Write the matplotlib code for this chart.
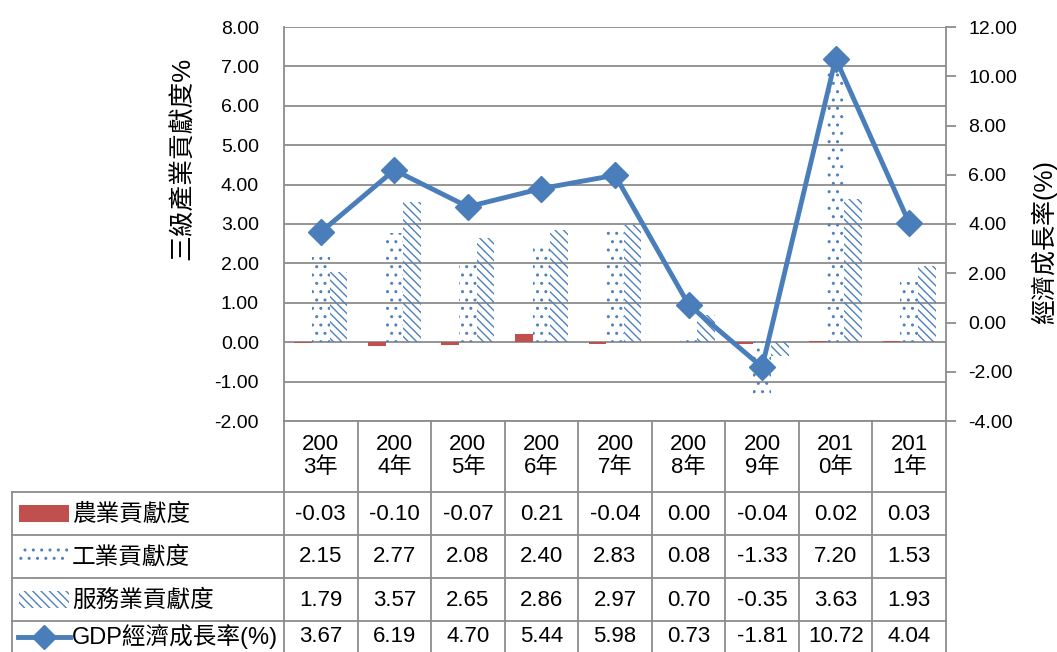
import matplotlib
matplotlib.use('Agg')
import matplotlib.pyplot as plt
import numpy as np
from matplotlib.lines import Line2D
from matplotlib.patches import Rectangle
from matplotlib.ticker import FormatStrFormatter
from matplotlib.transforms import blended_transform_factory

plt.rcParams['font.family'] = ['Liberation Sans', 'Noto Sans CJK TC']
plt.rcParams['hatch.linewidth'] = 1.0

# 資料
years = ['2003年', '2004年', '2005年', '2006年', '2007年', '2008年', '2009年', '2010年', '2011年']
agri = [-0.03, -0.10, -0.07, 0.21, -0.04, 0.00, -0.04, 0.02, 0.03]
industry = [2.15, 2.77, 2.08, 2.40, 2.83, 0.08, -1.33, 7.20, 1.53]
service = [1.79, 3.57, 2.65, 2.86, 2.97, 0.70, -0.35, 3.63, 1.93]
gdp = [3.67, 6.19, 4.70, 5.44, 5.98, 0.73, -1.81, 10.72, 4.04]
row_names = ['農業貢獻度', '工業貢獻度', '服務業貢獻度', 'GDP經濟成長率(%)']

W, H = 1057, 652
red = '#C0504D'
blue = '#4F81BD'
line_blue = '#4A7EBB'
gray = '#8C8C8C'


def fx(px):
    return px / W


def fy(py):
    return 1 - py / H


fig = plt.figure(figsize=(W / 100, H / 100), dpi=100)
ax = fig.add_axes([fx(284), fy(421), fx(946) - fx(284), fy(27) - fy(421)])

x = np.arange(len(years))
bw = 0.24
ax.bar(x - bw, agri, bw, color=red, linewidth=0, zorder=3)
ax.bar(x, industry, bw, facecolor='none', edgecolor=blue, hatch='..', linewidth=0, zorder=3)
ax.bar(x + bw, service, bw, facecolor='none', edgecolor=blue, hatch='\\\\\\\\', linewidth=0, zorder=3)

ax.set_xlim(-0.5, len(years) - 0.5)
ax.set_ylim(-2, 8)
ax.set_yticks(np.arange(-2, 9, 1))
ax.yaxis.set_major_formatter(FormatStrFormatter('%.2f'))
ax.set_xticks([])
ax.grid(axis='y', color=gray, linewidth=1.3, zorder=0)
ax.tick_params(axis='y', length=0, pad=18, labelsize=14)
for s in ['top', 'right']:
    ax.spines[s].set_visible(False)
for s in ['left', 'bottom']:
    ax.spines[s].set_color(gray)
    ax.spines[s].set_linewidth(1.3)

ax2 = ax.twinx()
ax2.plot(x, gdp, color=line_blue, linewidth=3.5, marker='D', markersize=13, zorder=5)
ax2.set_ylim(-4, 12)
ax2.set_yticks(np.arange(-4, 13, 2))
ax2.yaxis.set_major_formatter(FormatStrFormatter('%.2f'))
ax2.tick_params(axis='y', direction='out', length=7, width=1.3, color=gray, pad=9, labelsize=14)
for s in ['top', 'left', 'bottom']:
    ax2.spines[s].set_visible(False)
ax2.spines['right'].set_color(gray)
ax2.spines['right'].set_linewidth(1.3)

# 軸標題
fig.text(fx(183), fy(158), '三級產業貢獻度%', rotation=90, ha='center', va='center', fontsize=18.5)
fig.text(fx(1044), fy(242), '經濟成長率(%)', rotation=90, ha='center', va='center', fontsize=18)

# 資料表
trans = blended_transform_factory(ax.transData, fig.transFigure)
for xb in np.arange(-0.5, len(years), 1):
    fig.add_artist(Line2D([xb, xb], [fy(421), 0], transform=trans, color=gray, linewidth=1.3))
for yl in [492, 535, 578, 621]:
    fig.add_artist(Line2D([fx(12), fx(946)], [fy(yl), fy(yl)], transform=fig.transFigure,
                          color=gray, linewidth=1.3))
fig.add_artist(Line2D([fx(12), fx(12)], [fy(492), 0], transform=fig.transFigure, color=gray, linewidth=1.3))

for i, yr in enumerate(years):
    fig.text(i, fy(456), yr[:3] + '\n' + yr[3:], transform=trans, ha='center', va='center',
             fontsize=16, linespacing=1.15)

row_y = [514, 557, 600, 637]
for name, vals, yc in zip(row_names, [agri, industry, service, gdp], row_y):
    fig.text(fx(72), fy(yc), name, ha='left', va='center', fontsize=17)
    for i, v in enumerate(vals):
        fig.text(i, fy(yc), f'{v:.2f}', transform=trans, ha='center', va='center', fontsize=16)

# 圖例圖示
icon_w = fx(69) - fx(19)
icon_h = fy(505) - fy(522)
fig.add_artist(Rectangle((fx(19), fy(522)), icon_w, icon_h, transform=fig.transFigure,
                         facecolor=red, linewidth=0))
fig.add_artist(Rectangle((fx(19), fy(565)), icon_w, icon_h, transform=fig.transFigure,
                         facecolor='none', edgecolor=blue, hatch='..', linewidth=0))
fig.add_artist(Rectangle((fx(19), fy(608)), icon_w, icon_h, transform=fig.transFigure,
                         facecolor='none', edgecolor=blue, hatch='\\\\\\\\', linewidth=0))
fig.add_artist(Line2D([fx(18), fx(70)], [fy(637), fy(637)], transform=fig.transFigure,
                      color=line_blue, linewidth=3.5))
fig.add_artist(Line2D([fx(44)], [fy(637)], transform=fig.transFigure, color=line_blue,
                      marker='D', markersize=12))

fig.savefig('out.png', dpi=100)
